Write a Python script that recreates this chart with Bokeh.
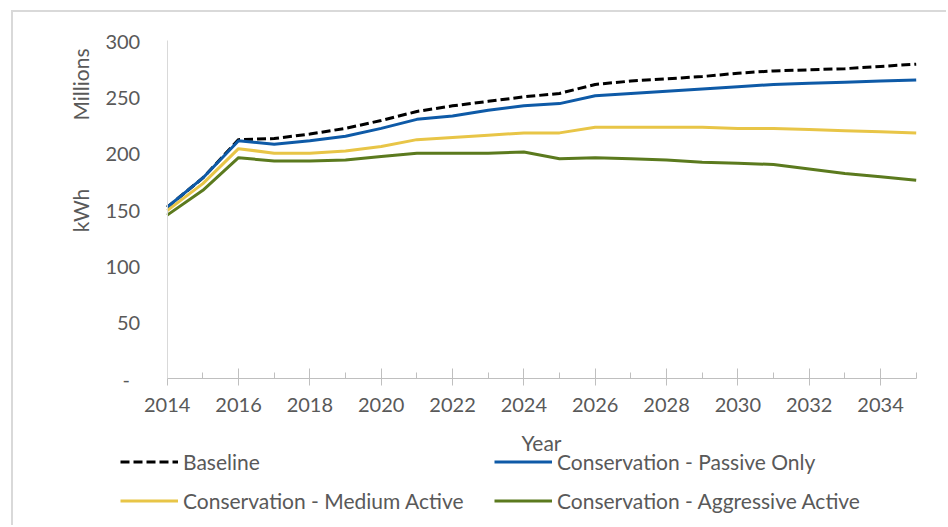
import math
from bokeh.plotting import figure
from bokeh.models import (Range1d, FixedTicker, Legend, LegendItem, Label)
from bokeh.embed import file_html
from bokeh.resources import INLINE

years = list(range(2014, 2036))
baseline = [152, 178, 212, 213, 217, 222, 229, 237, 242, 246, 250, 253,
            261, 264, 266, 268, 271, 273, 274, 275, 277, 279]
passive = [152, 178, 211, 208, 211, 215, 222, 230, 233, 238, 242, 244,
           251, 253, 255, 257, 259, 261, 262, 263, 264, 265]
medium = [149, 173, 204, 200, 200, 202, 206, 212, 214, 216, 218, 218,
          223, 223, 223, 223, 222, 222, 221, 220, 219, 218]
aggressive = [145, 167, 196, 193, 193, 194, 197, 200, 200, 200, 201, 195,
              196, 195, 194, 192, 191, 190, 186, 182, 179, 176]

series_names = ["Baseline", "Conservation - Passive Only",
                "Conservation - Medium Active", "Conservation - Aggressive Active"]
y_ticks = [0, 50, 100, 150, 200, 250, 300]
x_major = list(range(2014, 2036, 2))
x_minor = list(range(2015, 2036, 2))
x_title = "Year"
y_title = "kWh"
y_units_label = "Millions"

FONT = "Lato"
TXT = "#595959"

# canvas geometry (px): the plot area spans the whole canvas so that the
# axes (fixed location), titles and legends are all drawn inside it
W, H = 935, 515
OX, OY = 13, 12                      # canvas offset on the page
AX_L, AX_R, AX_T, AX_B = 166.7, 915.7, 40.0, 378.0   # page px of axis box
X0, X1 = years[0], years[-1]
Y0, Y1 = y_ticks[0], y_ticks[-1]
ppx = (AX_R - AX_L) / (X1 - X0)
ppy = (AX_B - AX_T) / (Y1 - Y0)
x_lo = X0 - (AX_L - OX) / ppx
x_hi = X1 + (OX + W - AX_R) / ppx
y_hi = Y1 + (AX_T - OY) / ppy
y_lo = Y0 - (OY + H - AX_B) / ppy

p = figure(width=W, height=H, output_backend="svg", toolbar_location=None,
           x_range=Range1d(x_lo, x_hi), y_range=Range1d(y_lo, y_hi),
           min_border_left=0, min_border_top=0, min_border_right=0,
           min_border_bottom=0)
p.styles = {"margin-left": "11px", "margin-top": "10px",
            "border-left": "2px solid #d9d9d9", "border-top": "2px solid #d9d9d9"}
p.outline_line_color = None
p.xgrid.grid_line_color = None
p.ygrid.grid_line_color = None
p.background_fill_color = "white"
p.border_fill_color = "white"

# x axis
xa = p.xaxis[0]
xa.fixed_location = Y0
xa.bounds = (X0, X1)
xa.ticker = FixedTicker(ticks=x_major, minor_ticks=x_minor)
xa.axis_line_color = "#bfbfbf"
xa.major_tick_line_color = "#bfbfbf"
xa.minor_tick_line_color = "#bfbfbf"
xa.major_tick_in = 10
xa.major_tick_out = 7
xa.minor_tick_in = 6
xa.minor_tick_out = 0
xa.major_label_text_font = FONT
xa.major_label_text_font_size = "20px"
xa.major_label_text_color = TXT
xa.major_label_standoff = 12

# y axis
ya = p.yaxis[0]
ya.fixed_location = X0
ya.bounds = (Y0, Y1)
ya.ticker = FixedTicker(ticks=y_ticks)
ya.axis_line_color = "#d9d9d9"
ya.major_tick_line_color = None
ya.minor_tick_line_color = None
ya.major_tick_in = 0
ya.major_tick_out = 0
ya.major_label_overrides = {0: "-\u00a0\u00a0"}
ya.major_label_text_font = FONT
ya.major_label_text_font_size = "20px"
ya.major_label_text_color = TXT
ya.major_label_standoff = 27

r_base = p.line(years, baseline, line_color="black", line_width=3, line_dash="9 4")
r_pass = p.line(years, passive, line_color="#0E5AA7", line_width=3)
r_med = p.line(years, medium, line_color="#E8C547", line_width=3)
r_agg = p.line(years, aggressive, line_color="#5B7A1E", line_width=3)

def lab(text, px, py, angle=0.0):
    return Label(x=px - OX, y=OY + H - py, x_units="screen", y_units="screen",
                 text=text, angle=angle, text_align="center",
                 text_baseline="middle", text_font=FONT, text_font_size="21px",
                 text_color=TXT)

p.add_layout(lab(x_title, 541, 442))
p.add_layout(lab(y_title, 80, 210, math.pi / 2))
p.add_layout(lab(y_units_label, 80, 84, math.pi / 2))

def make_legend(items, page_x):
    return Legend(items=items, location=(page_x - OX, OY + H - 512.5),
                  orientation="vertical",
                  glyph_width=58, glyph_height=25, label_height=25,
                  label_standoff=5, spacing=14, padding=0, margin=0,
                  border_line_color=None, background_fill_alpha=0,
                  label_text_font=FONT, label_text_font_size="21px",
                  label_text_color=TXT)

leg1 = make_legend([LegendItem(label=series_names[0], renderers=[r_base]),
                    LegendItem(label=series_names[2], renderers=[r_med])], 120)
leg2 = make_legend([LegendItem(label=series_names[1], renderers=[r_pass]),
                    LegendItem(label=series_names[3], renderers=[r_agg])], 494)
p.add_layout(leg1, "center")
p.add_layout(leg2, "center")

open("out.html", "w").write(file_html(p, INLINE))
